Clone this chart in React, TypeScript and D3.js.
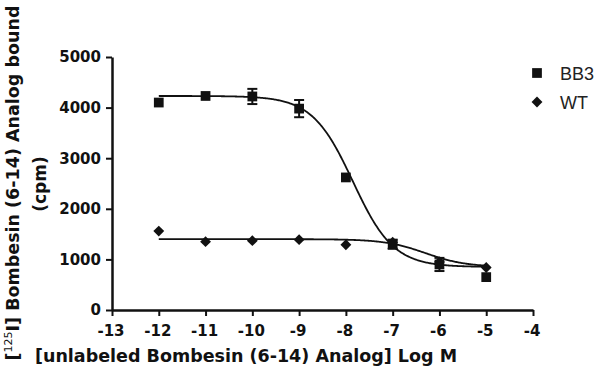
import React, { useEffect, useRef } from 'react'
import * as d3 from 'd3'

// log M concentrations
const logConc = [-12, -11, -10, -9, -8, -7, -6, -5]
const bb3Values = [4100, 4230, 4220, 3980, 2620, 1300, 900, 650]
const bb3Errors = [0, 0, 150, 170, 0, 90, 130, 0]
const wtValues = [1560, 1350, 1370, 1390, 1290, 1340, 950, 840]
const wtErrors = [0, 0, 0, 0, 0, 0, 0, 0]

// fitted one-site competition params: [top, bottom, logIC50]
const bb3Fit = [4230, 850, -7.85]
const wtFit = [1400, 850, -6.3]

const xTicks = [-13, -12, -11, -10, -9, -8, -7, -6, -5, -4]
const yTicks = [0, 1000, 2000, 3000, 4000, 5000]
const legendNames = ['BB3', 'WT']

const W = 600
const H = 373
const margin = { top: 57, right: 67, bottom: 63, left: 112 }

function App() {
  const ref = useRef<SVGSVGElement>(null)

  useEffect(() => {
    const svg = d3.select(ref.current)
    svg.selectAll('*').remove()

    const width = W - margin.left - margin.right
    const height = H - margin.top - margin.bottom

    const x = d3.scaleLinear().domain([-13, -4]).range([0, width])
    const y = d3.scaleLinear().domain([0, 5000]).range([height, 0])

    const g = svg.append('g').attr('transform', `translate(${margin.left},${margin.top})`)
    const font = 'DejaVu Sans, sans-serif'

    // axes
    const yAxis = g
      .append('g')
      .call(d3.axisLeft(y).tickValues(yTicks).tickSize(6).tickSizeOuter(0).tickFormat(d3.format('d')))
    const xAxis = g
      .append('g')
      .attr('transform', `translate(0,${height})`)
      .call(d3.axisBottom(x).tickValues(xTicks).tickSize(6).tickSizeOuter(0).tickFormat((d) => String(d)))
    ;[yAxis, xAxis].forEach((a) => {
      a.select('.domain').attr('stroke', '#111').attr('stroke-width', 2.5)
      a.selectAll('.tick line').attr('stroke', '#111').attr('stroke-width', 2)
      a.selectAll('.tick text')
        .attr('fill', '#111')
        .style('font-family', font)
        .style('font-weight', 'bold')
        .style('font-size', '15px')
    })
    yAxis.selectAll('.tick text').attr('x', -11)
    xAxis.selectAll('.tick text').attr('y', 15).attr('dx', '-0.1em')

    // fitted curves
    const fitLine = (p: number[]) => {
      const xs = d3.range(-12, -4.995, 0.02)
      return d3
        .line<number>()
        .x((d) => x(d))
        .y((d) => y(p[1] + (p[0] - p[1]) / (1 + Math.pow(10, d - p[2]))))(xs)
    }
    ;[wtFit, bb3Fit].forEach((p) => {
      g.append('path')
        .attr('d', fitLine(p))
        .attr('fill', 'none')
        .attr('stroke', '#111')
        .attr('stroke-width', 1.8)
    })

    // error bars
    const errs = (vals: number[], e: number[]) => {
      logConc.forEach((c, i) => {
        if (!e[i]) return
        const cx = x(c)
        const eg = g.append('g').attr('stroke', '#111').attr('stroke-width', 2)
        eg.append('line').attr('x1', cx).attr('x2', cx).attr('y1', y(vals[i] - e[i])).attr('y2', y(vals[i] + e[i]))
        ;[vals[i] - e[i], vals[i] + e[i]].forEach((v) => {
          eg.append('line').attr('x1', cx - 5).attr('x2', cx + 5).attr('y1', y(v)).attr('y2', y(v))
        })
      })
    }
    errs(bb3Values, bb3Errors)
    errs(wtValues, wtErrors)

    const square = d3.symbol(d3.symbolSquare, 95)
    const diamond = d3.symbol(d3.symbolDiamond2, 75)

    g.selectAll('.wt')
      .data(wtValues)
      .enter()
      .append('path')
      .attr('d', diamond)
      .attr('transform', (d, i) => `translate(${x(logConc[i])},${y(d)})`)
      .attr('fill', '#111')

    g.selectAll('.bb3')
      .data(bb3Values)
      .enter()
      .append('path')
      .attr('d', square)
      .attr('transform', (d, i) => `translate(${x(logConc[i])},${y(d)})`)
      .attr('fill', '#111')

    // legend
    const leg = svg.append('g').attr('transform', 'translate(537,73)')
    legendNames.forEach((name, i) => {
      const row = leg.append('g').attr('transform', `translate(0,${i * 29})`)
      row.append('path').attr('d', i === 0 ? square : diamond).attr('fill', '#111')
      row.append('text')
        .attr('x', 23)
        .attr('y', 7)
        .attr('fill', '#222')
        .style('font-family', 'Liberation Sans, Arial, sans-serif')
        .style('font-size', '18px')
        .text(name)
    })

    // axis titles
    svg.append('text')
      .attr('x', 246)
      .attr('y', 362)
      .attr('text-anchor', 'middle')
      .attr('fill', '#111')
      .style('font-family', font)
      .style('font-weight', 'bold')
      .style('font-size', '17.5px')
      .text('[unlabeled Bombesin (6-14) Analog] Log M')

    const yt = svg.append('text')
      .attr('transform', 'translate(19,183) rotate(-90)')
      .attr('text-anchor', 'middle')
      .attr('fill', '#111')
      .style('font-family', font)
      .style('font-weight', 'bold')
      .style('font-size', '17.5px')
    yt.append('tspan').text('[')
    yt.append('tspan').attr('dy', -7).style('font-size', '11px').style('font-weight', 'normal').text('125')
    yt.append('tspan').attr('dy', 7).text('I] Bombesin (6-14) Analog bound')

    svg.append('text')
      .attr('transform', 'translate(46,184) rotate(-90)')
      .attr('text-anchor', 'middle')
      .attr('fill', '#111')
      .style('font-family', font)
      .style('font-weight', 'bold')
      .style('font-size', '17px')
      .text('(cpm)')
  }, [])

  return <svg ref={ref} width={W} height={H} style={{ position: 'absolute', left: 0, top: 0, background: '#fff' }} />
}

export default App
